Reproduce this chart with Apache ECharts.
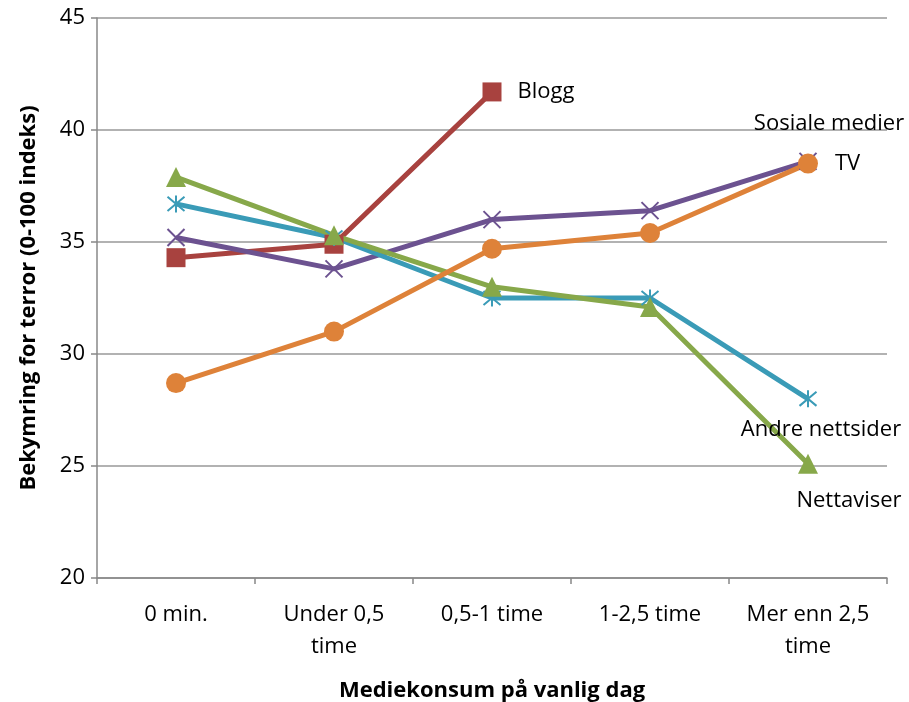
<!DOCTYPE html>
<html><head><meta charset="utf-8">
<script src="https://cdn.jsdelivr.net/npm/echarts@6/dist/echarts.min.js"></script>
<style>html,body{margin:0;padding:0;background:#fff}#c{width:909px;height:702px}</style>
</head><body><div id="c"></div>
<script>
const categories = ['0 min.', 'Under 0,5\ntime', '0,5-1 time', '1-2,5 time', 'Mer enn 2,5\ntime'];
const yTicks = [20, 25, 30, 35, 40, 45];
const tv = [28.7, 31.0, 34.7, 35.4, 38.5];
const sosiale = [35.2, 33.8, 36.0, 36.4, 38.6];
const andre = [36.7, 35.2, 32.5, 32.5, 28.0];
const nettaviser = [37.9, 35.3, 33.0, 32.1, 25.1];
const blogg = [34.3, 34.9, 41.7, null, null];

const FONT = '"Open Sans", sans-serif';
const X_PATH = 'path://M0,0L10,10M10,0L0,10';
const AST_PATH = 'path://M0,0L10,10M10,0L0,10M5,-1L5,11';

function mk(name, data, color, symbol, size, labelIdx, labelOpt, stroke) {
  return {
    name, type: 'line', symbol, symbolSize: size,
    lineStyle: { color, width: 5 },
    itemStyle: stroke ? { color: 'none', borderColor: color, borderWidth: 2 } : { color, borderWidth: 0 },
    showAllSymbol: true,
    connectNulls: false,
    emphasis: { disabled: true },
    animation: false,
    data: data.map((v, i) => i === labelIdx ? {
      value: v,
      label: Object.assign({ show: true, formatter: name, color: '#000', fontFamily: FONT, fontSize: 22 }, labelOpt)
    } : v)
  };
}

const chart = echarts.init(document.getElementById('c'));
chart.setOption({
  animation: false,
  grid: { left: 97, right: 22, top: 18, bottom: 124, containLabel: false, outerBoundsMode: 'none' },
  xAxis: {
    type: 'category', data: categories, boundaryGap: true,
    axisLine: { lineStyle: { color: '#888', width: 1.5 } },
    axisTick: { show: true, alignWithLabel: false, length: 6, lineStyle: { color: '#888', width: 1.5 } },
    axisLabel: { color: '#000', fontFamily: FONT, fontSize: 22, margin: 21, lineHeight: 32, interval: 0 },
    name: 'Mediekonsum på vanlig dag', nameLocation: 'middle', nameGap: 102,
    nameTextStyle: { color: '#000', fontFamily: FONT, fontSize: 22, fontWeight: 'bold' }
  },
  yAxis: {
    type: 'value', min: 20, max: 45, interval: 5,
    axisLine: { show: true, lineStyle: { color: '#888', width: 1.5 } },
    axisTick: { show: true, length: 6, lineStyle: { color: '#888', width: 1.5 } },
    splitLine: { lineStyle: { color: '#999', width: 1.5 } },
    axisLabel: { color: '#000', fontFamily: FONT, fontSize: 22, margin: 12,
      formatter: v => yTicks.includes(v) ? String(v) : '' },
    name: 'Bekymring for terror (0-100 indeks)', nameLocation: 'middle', nameGap: 57,
    nameTextStyle: { color: '#000', fontFamily: FONT, fontSize: 22, fontWeight: 'bold' }
  },
  series: [
    mk('Blogg', blogg, '#A8423F', 'rect', 19, 2, { position: 'right', distance: 16 }),
    mk('Sosiale medier', sosiale, '#6C5290', X_PATH, 17, 4, { position: 'top', offset: [21, -11] }, true),
    mk('Andre nettsider', andre, '#3A9BB7', AST_PATH, 17, 4, { position: 'bottom', offset: [13, 4] }, true),
    mk('Nettaviser', nettaviser, '#87A84A', 'triangle', 20, 4, { position: 'bottom', offset: [41, 11] }),
    mk('TV', tv, '#DE8239', 'circle', 20, 4, { position: 'right', distance: 17 })
  ]
});
</script></body></html>
